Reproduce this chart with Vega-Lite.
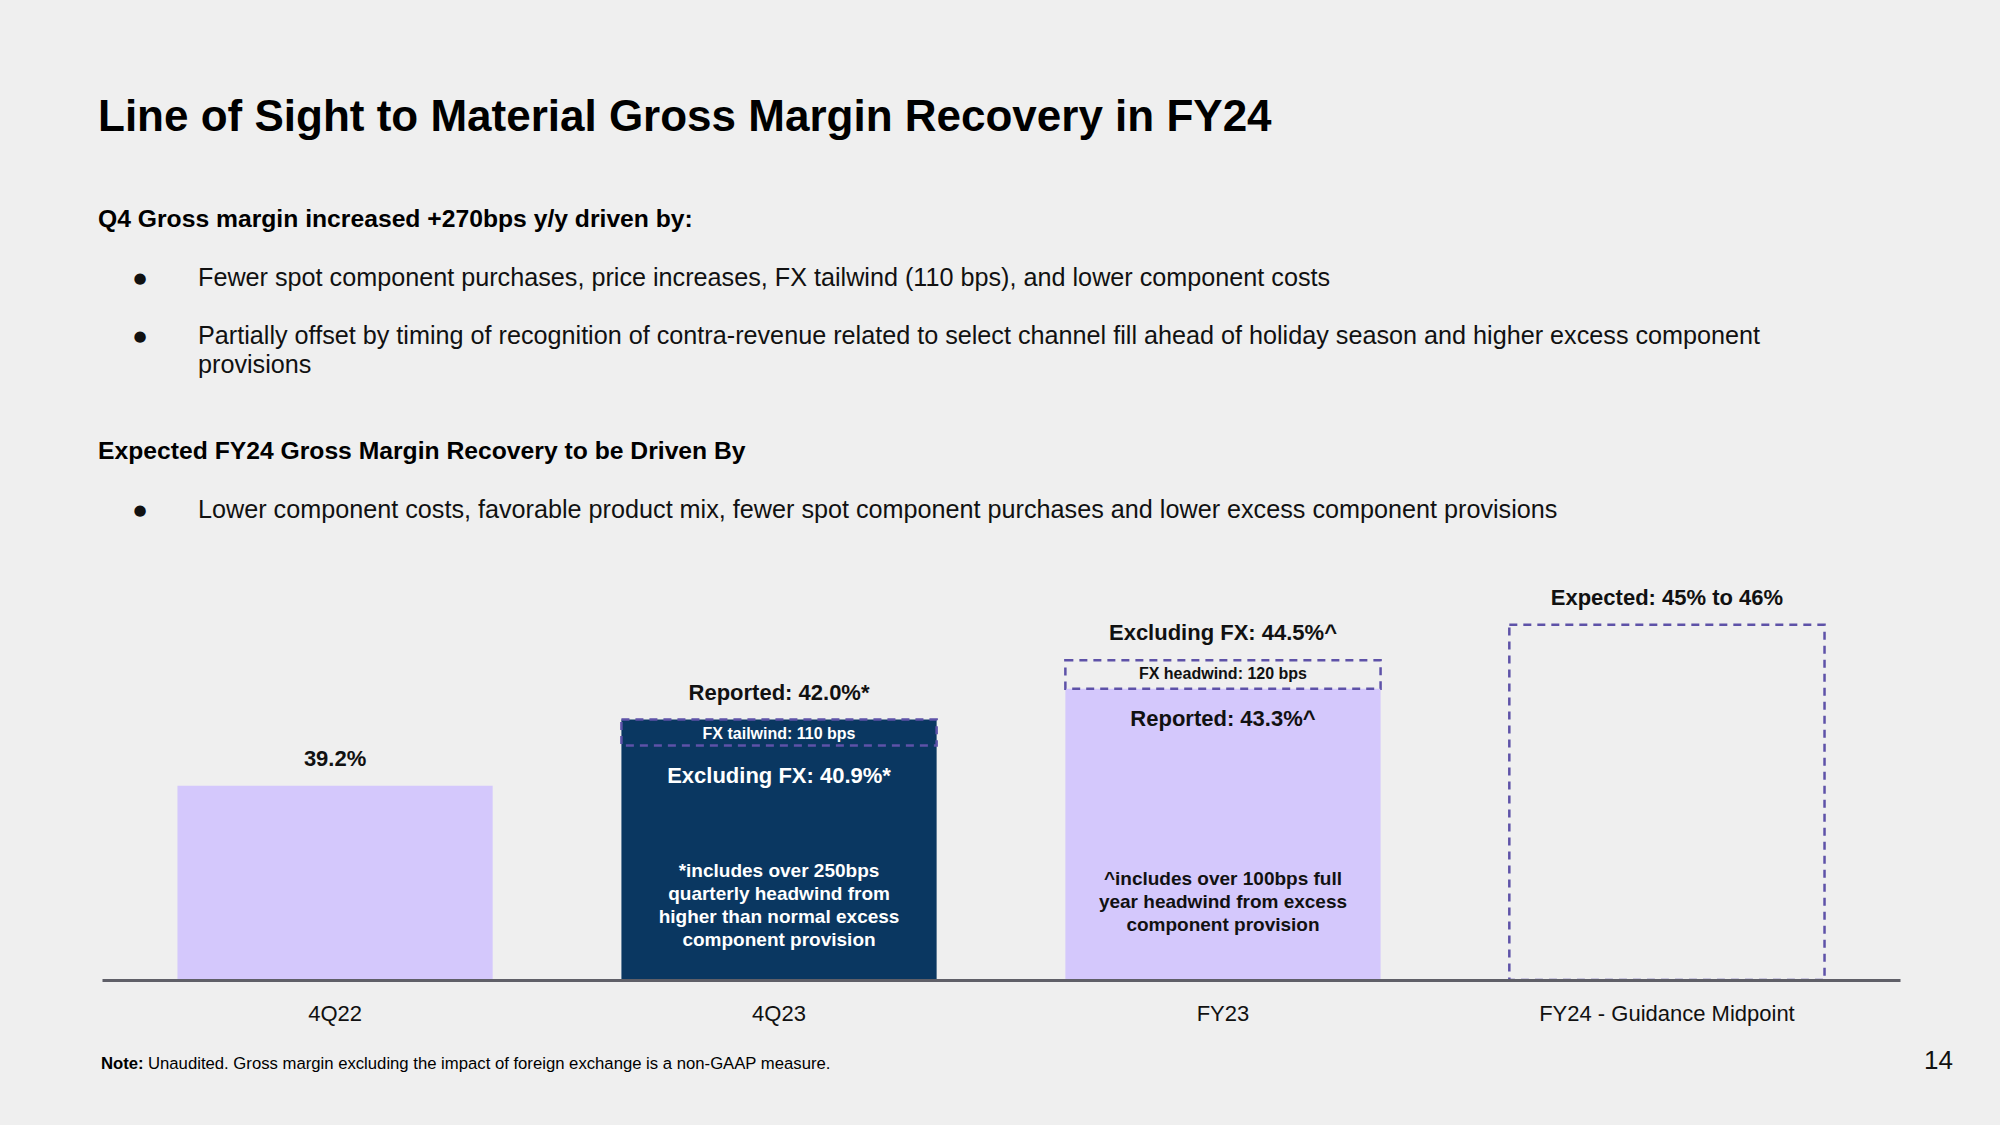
{
  "$schema": "https://vega.github.io/schema/vega-lite/v6.json",
  "width": 1798,
  "height": 980,
  "autosize": {"type": "none"},
  "padding": {"left": 102, "top": 0, "right": 100, "bottom": 145},
  "background": "#efefef",
  "config": {"view": {"stroke": null}, "font": "Liberation Sans", "text": {"font": "Liberation Sans"}},
  "datasets": {
    "bars": [
      {"cat": "4Q22", "value": 39.2},
      {"cat": "4Q23", "value": 42.0},
      {"cat": "FY23", "value": 43.3}
    ],
    "guidance": [
      {"cat": "FY24 - Guidance Midpoint", "low": 45, "high": 46, "value": 45.5}
    ],
    "fx": [
      {"cat": "4Q23", "lo": 40.9, "hi": 42.0, "label": "FX tailwind: 110 bps"},
      {"cat": "FY23", "lo": 43.3, "hi": 44.5, "label": "FX headwind: 120 bps"}
    ],
    "above": [
      {"cat": "4Q22", "value": 39.2, "text": "39.2%"},
      {"cat": "4Q23", "value": 42.0, "text": "Reported: 42.0%*"},
      {"cat": "FY23", "value": 44.5, "text": "Excluding FX: 44.5%^"},
      {"cat": "FY24 - Guidance Midpoint", "value": 46, "text": "Expected: 45% to 46%"}
    ],
    "inside": [
      {"cat": "4Q23", "value": 40.9, "text": "Excluding FX: 40.9%*"},
      {"cat": "FY23", "value": 43.3, "text": "Reported: 43.3%^"}
    ],
    "foot": [
      {"cat": "4Q23", "text": "*includes over 250bps\nquarterly headwind from\nhigher than normal excess\ncomponent provision"},
      {"cat": "FY23", "text": "^includes over 100bps full\nyear headwind from excess\ncomponent provision"}
    ],
    "lines": [
      {"line": -7, "indent": 0, "kind": "title", "text": "Line of Sight to Material Gross Margin Recovery in FY24"},
      {"line": 0, "indent": 0, "kind": "heading", "text": "Q4 Gross margin increased +270bps y/y driven by:"},
      {"line": 4, "indent": 1, "kind": "bullet", "text": "Fewer spot component purchases, price increases, FX tailwind (110 bps), and lower component costs"},
      {"line": 8, "indent": 1, "kind": "bullet", "text": "Partially offset by timing of recognition of contra-revenue related to select channel fill ahead of holiday season and higher excess component"},
      {"line": 10, "indent": 1, "kind": "wrap", "text": "provisions"},
      {"line": 16, "indent": 0, "kind": "heading", "text": "Expected FY24 Gross Margin Recovery to be Driven By"},
      {"line": 20, "indent": 1, "kind": "bullet", "text": "Lower component costs, favorable product mix, fewer spot component purchases and lower excess component provisions"},
      {"line": 58.2, "indent": 0, "kind": "notelabel", "text": "Note:"},
      {"line": 58.2, "indent": 0, "kind": "note", "text": "Unaudited. Gross margin excluding the impact of foreign exchange is a non-GAAP measure."},
      {"line": 58, "indent": 0, "kind": "page", "text": "14"}
    ]
  },
  "layer": [
    {
      "encoding": {
        "x": {
          "field": "cat",
          "type": "nominal",
          "sort": null,
          "title": null,
          "scale": {"domain": ["4Q22", "4Q23", "FY23", "FY24 - Guidance Midpoint"], "paddingInner": 0.29, "paddingOuter": 0.17},
          "axis": {
            "orient": "bottom",
            "ticks": false,
            "grid": false,
            "domainColor": "#5f5f68",
            "domainWidth": 3,
            "labelFont": "Liberation Sans",
            "labelFontSize": 22,
            "labelColor": "#111111",
            "labelPadding": 23,
            "labelAngle": 0,
            "labelLimit": 0,
            "zindex": 1
          }
        }
      },
      "layer": [
        {
          "data": {"name": "bars"},
          "mark": {"type": "bar"},
          "encoding": {
            "y": {"field": "value", "type": "quantitative", "scale": {"domain": [31.0, 72.39], "nice": false, "zero": false}, "axis": null},
            "y2": {"datum": 31.0},
            "color": {"field": "cat", "type": "nominal", "scale": {"domain": ["4Q22", "4Q23", "FY23"], "range": ["#d4c8fc", "#0a3761", "#d4c8fc"]}, "legend": null}
          }
        },
        {
          "data": {"name": "guidance"},
          "mark": {"type": "bar", "fillOpacity": 0, "stroke": "#5e52a8", "strokeWidth": 2.5, "strokeDash": [8, 6]},
          "encoding": {
            "y": {"field": "high", "type": "quantitative", "scale": {"domain": [31.0, 72.39], "nice": false, "zero": false}, "axis": null},
            "y2": {"datum": 31.0}
          }
        },
        {
          "data": {"name": "fx"},
          "mark": {"type": "bar", "fillOpacity": 0, "stroke": "#5e52a8", "strokeWidth": 2.5, "strokeDash": [8, 6]},
          "encoding": {
            "y": {"field": "hi", "type": "quantitative", "scale": {"domain": [31.0, 72.39], "nice": false, "zero": false}, "axis": null},
            "y2": {"field": "lo"}
          }
        },
        {
          "data": {"name": "fx"},
          "mark": {"type": "text", "fontSize": 16, "fontWeight": "bold", "baseline": "middle", "dy": 14},
          "encoding": {
            "y": {"field": "hi", "type": "quantitative", "scale": {"domain": [31.0, 72.39], "nice": false, "zero": false}, "axis": null},
            "text": {"field": "label"},
            "color": {"condition": {"test": "datum.cat === '4Q23'", "value": "#ffffff"}, "value": "#111111"}
          }
        },
        {
          "data": {"name": "above"},
          "mark": {"type": "text", "fontSize": 22, "fontWeight": "bold", "baseline": "middle", "dy": -27, "color": "#111111"},
          "encoding": {
            "y": {"field": "value", "type": "quantitative", "scale": {"domain": [31.0, 72.39], "nice": false, "zero": false}, "axis": null},
            "text": {"field": "text"}
          }
        },
        {
          "data": {"name": "inside"},
          "mark": {"type": "text", "fontSize": 22, "fontWeight": "bold", "baseline": "middle", "dy": 30},
          "encoding": {
            "y": {"field": "value", "type": "quantitative", "scale": {"domain": [31.0, 72.39], "nice": false, "zero": false}, "axis": null},
            "text": {"field": "text"},
            "color": {"condition": {"test": "datum.cat === '4Q23'", "value": "#ffffff"}, "value": "#111111"}
          }
        },
        {
          "data": {"name": "foot"},
          "transform": [{"filter": "datum.cat === '4Q23'"}],
          "mark": {"type": "text", "fontSize": 19, "fontWeight": "bold", "baseline": "middle", "lineBreak": "\n", "lineHeight": 23, "dy": -109, "color": "#ffffff"},
          "encoding": {
            "y": {"datum": 31.0, "type": "quantitative", "scale": {"domain": [31.0, 72.39], "nice": false, "zero": false}, "axis": null},
            "text": {"field": "text"}
          }
        },
        {
          "data": {"name": "foot"},
          "transform": [{"filter": "datum.cat === 'FY23'"}],
          "mark": {"type": "text", "fontSize": 19, "fontWeight": "bold", "baseline": "middle", "lineBreak": "\n", "lineHeight": 23, "dy": -101, "color": "#111111"},
          "encoding": {
            "y": {"datum": 31.0, "type": "quantitative", "scale": {"domain": [31.0, 72.39], "nice": false, "zero": false}, "axis": null},
            "text": {"field": "text"}
          }
        }
      ]
    },
    {
      "data": {"name": "lines"},
      "encoding": {
        "x": {"field": "indent", "type": "quantitative", "scale": {"domain": [0.04, 18.02], "nice": false, "zero": false}, "axis": null},
        "y": {"field": "line", "type": "quantitative", "scale": {"domain": [-15.172, 52.414], "nice": false, "zero": false, "reverse": true}, "axis": null},
        "text": {"field": "text"}
      },
      "layer": [
        {
          "transform": [{"filter": "datum.kind === 'title'"}],
          "mark": {"type": "text", "align": "left", "baseline": "middle", "fontSize": 44, "fontWeight": "bold", "color": "#000000"}
        },
        {
          "transform": [{"filter": "datum.kind === 'heading'"}],
          "mark": {"type": "text", "align": "left", "baseline": "middle", "fontSize": 24.7, "fontWeight": "bold", "color": "#000000"}
        },
        {
          "transform": [{"filter": "datum.kind === 'bullet' || datum.kind === 'wrap'"}],
          "mark": {"type": "text", "align": "left", "baseline": "middle", "fontSize": 25.2, "color": "#111111"}
        },
        {
          "transform": [{"filter": "datum.kind === 'bullet'"}],
          "mark": {"type": "text", "align": "center", "baseline": "middle", "fontSize": 15, "font": "DejaVu Sans", "dx": -58, "color": "#111111"},
          "encoding": {"text": {"value": "●"}}
        },
        {
          "transform": [{"filter": "datum.kind === 'notelabel'"}],
          "mark": {"type": "text", "align": "left", "baseline": "middle", "fontSize": 16.7, "fontWeight": "bold", "dx": 3, "color": "#000000"}
        },
        {
          "transform": [{"filter": "datum.kind === 'note'"}],
          "mark": {"type": "text", "align": "left", "baseline": "middle", "fontSize": 16.7, "dx": 50, "color": "#000000"}
        },
        {
          "transform": [{"filter": "datum.kind === 'page'"}],
          "mark": {"type": "text", "align": "right", "baseline": "middle", "fontSize": 26, "dx": 53, "color": "#111111"},
          "encoding": {"x": {"value": "width"}}
        }
      ]
    }
  ],
  "resolve": {"scale": {"x": "independent", "y": "independent", "color": "independent"}, "axis": {"x": "independent", "y": "independent"}}
}
